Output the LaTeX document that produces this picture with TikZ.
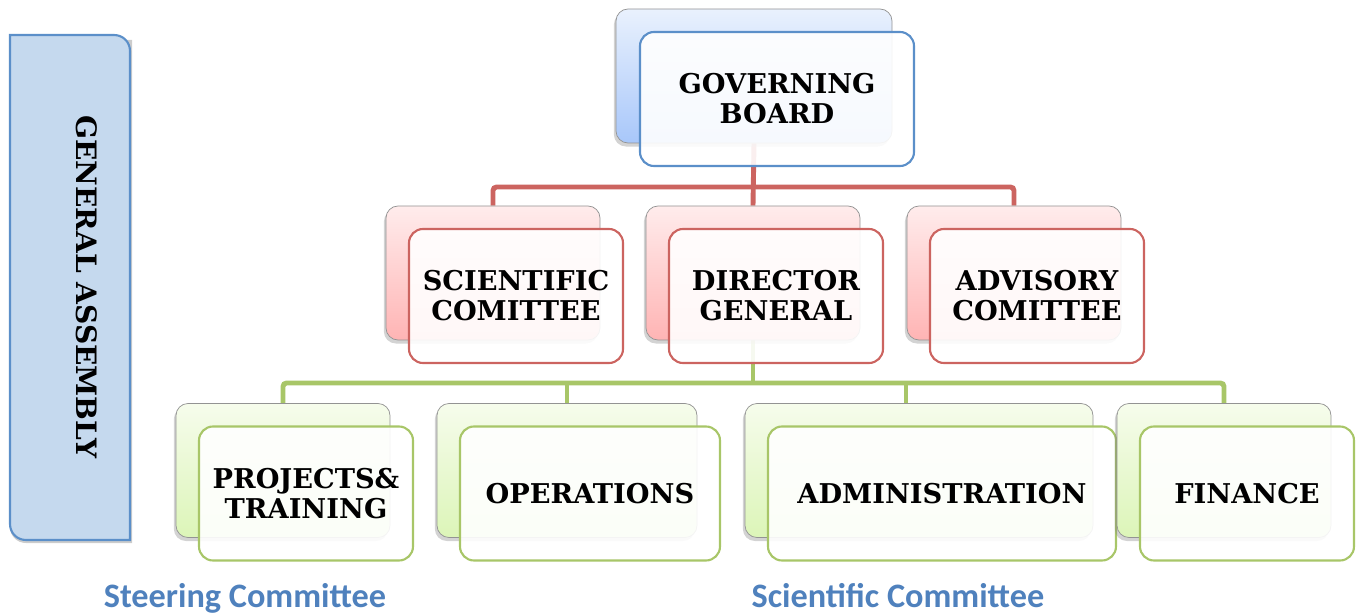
\documentclass[tikz,border=0pt]{standalone}
\usepackage{fontspec}
\setmainfont{DejaVu Serif}
\newfontfamily\capfont{Carlito}
\usepackage{tikz}
\usetikzlibrary{calc,shadows}
\pgfdeclarelayer{background}
\pgfsetlayers{background,main}

\definecolor{blueedge}{RGB}{91,143,201}
\definecolor{bluefill}{RGB}{197,217,238}
\definecolor{bluetop}{RGB}{233,241,253}
\definecolor{bluebot}{RGB}{168,199,250}
\definecolor{rededge}{RGB}{204,100,96}
\definecolor{redtop}{RGB}{255,236,236}
\definecolor{redbot}{RGB}{255,180,180}
\definecolor{grnedge}{RGB}{168,198,104}
\definecolor{grntop}{RGB}{246,252,236}
\definecolor{grnbot}{RGB}{220,245,184}
\definecolor{capblue}{RGB}{79,129,189}

\tikzset{
  backbox/.style={rectangle, rounded corners=12*0.02cm, draw=gray!85, thin,
    top color=#1top, bottom color=#1bot,
    drop shadow={shadow xshift=-1.2pt, shadow yshift=-2pt, opacity=0.35}},
  frontbox/.style={rectangle, rounded corners=14*0.02cm, draw=#1edge, line width=1.2pt,
    fill=white, fill opacity=0.9, text opacity=1,
    font=\fontsize{15.5}{17}\selectfont\bfseries, align=center},
  bus/.style={line width=2.8pt, draw=#1edge},
  caption/.style={anchor=base, text=capblue, font=\capfont\fontsize{19.5}{21}\selectfont\bfseries}
}
% back box and front box of one unit
\newcommand{\unitbox}[7]{%
  \node[backbox=#2, minimum width=#5*0.02cm, minimum height=134*0.02cm] (#1b) at (#3,#4) {};
  \node[frontbox=#2, minimum width=#6*0.02cm, minimum height=134*0.02cm] (#1) at ($(#1b)+(23,23)$) {#7};}

\begin{document}
\begin{tikzpicture}[x=0.02cm, y=-0.02cm]
  \useasboundingbox (0,0) rectangle (1357,615);

  % general assembly
  \fill[black, opacity=0.2] (10,40) -- (132,40) -- (132,543) -- (26,543) .. controls (17,543) and (10,536) .. (10,527) -- cycle;
  \filldraw[fill=bluefill, draw=blueedge, line width=1.2pt] (10,35) -- (114,35) .. controls (123,35) and (130,42) .. (130,51)
    -- (130,540) -- (26,540) .. controls (17,540) and (10,533) .. (10,524) -- cycle;
  \node[rotate=-90, font=\fontsize{16}{17}\selectfont\bfseries] (ga) at (87,287) {GENERAL ASSEMBLY};

  % boxes
  \unitbox{gb}{blue}{754}{76}{276}{274}{GOVERNING\\BOARD}
  \unitbox{sc}{red}{493}{273}{214}{214}{SCIENTIFIC\\COMITTEE}
  \unitbox{dg}{red}{753}{273}{214}{214}{DIRECTOR\\GENERAL}
  \unitbox{adv}{red}{1014}{273}{214}{214}{ADVISORY\\COMITTEE}
  \unitbox{prj}{grn}{283}{470.5}{214}{214}{PROJECTS\&\\TRAINING}
  \unitbox{ops}{grn}{567}{470.5}{260}{260}{OPERATIONS}
  \unitbox{adm}{grn}{919}{470.5}{348}{348}{ADMINISTRATION}
  \unitbox{fin}{grn}{1224}{470.5}{214}{214}{FINANCE}

  % connectors
  \coordinate (redbus) at (0,187);
  \coordinate (grnbus) at (0,383);
  \coordinate (admdrop) at ($(admb.north)+(-13,0)$);
  \begin{pgfonlayer}{background}
    \draw[bus=red, rounded corners=2pt] (scb.north) |- (redbus -| advb.north) -- (advb.north);
    \draw[bus=red] (gbb.south) -- (dgb.north);
    \draw[bus=grn, rounded corners=2pt] (prjb.north) |- (grnbus -| finb.north) -- (finb.north);
    \draw[bus=grn] (dgb.south) -- (dgb.south |- grnbus);
    \draw[bus=grn] (opsb.north) -- (opsb.north |- grnbus);
    \draw[bus=grn] (admdrop) -- (admdrop |- grnbus);
  \end{pgfonlayer}

  % captions
  \node[caption] (steer) at (245,607) {Steering Committee};
  \node[caption] (scien) at (898,607) {Scientific Committee};
\end{tikzpicture}
\end{document}
